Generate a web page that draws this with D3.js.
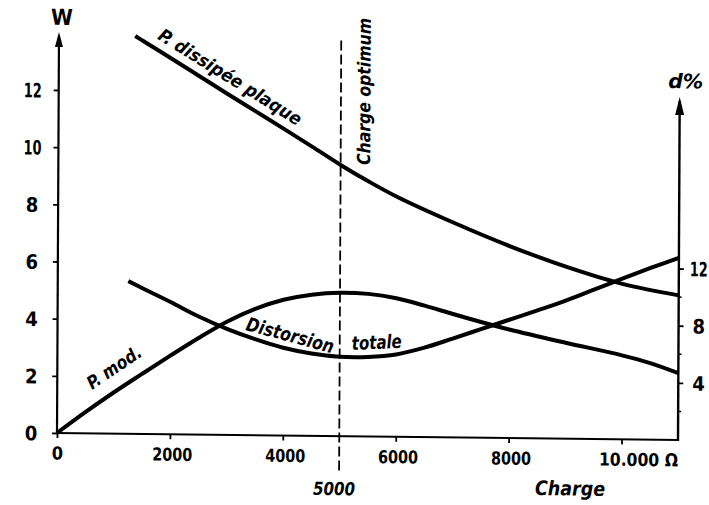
<!DOCTYPE html>
<html><head><meta charset="utf-8">
<script src="https://cdn.jsdelivr.net/npm/d3@7/dist/d3.min.js"></script>
<style>
html,body{margin:0;padding:0;background:#fff;}
svg{display:block;}
text{font-family:"DejaVu Sans Condensed","DejaVu Sans",sans-serif;font-weight:bold;fill:#000;}
</style></head><body>
<svg id="chart" width="709" height="505"></svg>
<script>
// ---- data (load in ohms) ----
const dissLoad = [1350,1500,2000,2500,3000,3500,4000,4500,5000,5500,6000,7000,8000,9000,10000,11000];
const dissW    = [13.92,13.74,13.14,12.53,11.92,11.32,10.72,10.11,9.49,8.92,8.40,7.52,6.72,6.02,5.44,5.06];

const modLoad = [0,500,1000,1500,2000,2500,3000,3500,4000,4500,5000,5500,6000,6500,7000,7500,8000,9000,10000,10500,11000];
const modW    = [0,0.74,1.44,2.10,2.75,3.38,3.96,4.42,4.75,4.94,5.02,4.99,4.85,4.60,4.32,4.05,3.80,3.36,2.94,2.68,2.34];

const distLoad = [1250,1500,2000,2500,3000,3500,4000,4500,5000,5500,6000,6500,7000,7500,8000,8500,9000,9500,10000,10500,11000];
const distPct  = [10.68,10.20,9.25,8.26,7.42,6.72,6.14,5.76,5.56,5.57,5.76,6.26,6.92,7.60,8.28,8.96,9.66,10.45,11.25,12.02,12.75];

const xTicks = [0,2000,4000,6000,8000,10000];
const xTickLabels = ["0","2000","4000","6000","8000","10.000 \u03A9"];
const wTicks = [0,2,4,6,8,10,12];
const dTicks = [4,8,12];
const dMinorTicks = [2,6,10];
const optimumLoad = 5000;

// ---- scales (local frame: origin at axes corner) ----
const x  = d3.scaleLinear().domain([0,11000]).range([0,621]);
const yW = d3.scaleLinear().domain([0,12]).range([0,-343]);
const yD = d3.scaleLinear().domain([0,24]).range([0,-343]);

const svg = d3.select("#chart");
// slight skew of the scanned original
const g = svg.append("g").attr("transform","matrix(1,0.0113,-0.005,1,57,433)");

// ---- axes ----
g.append("line").attr("x1",0).attr("x2",0).attr("y1",1).attr("y2",yW(14.03)+4)
  .attr("stroke","#000").attr("stroke-width",2.2);
g.append("path").attr("d",`M0,${yW(14.03)} L-4,${yW(14.03)+15} L4,${yW(14.03)+15} Z`).attr("fill","#000");
g.append("line").attr("x1",x(11000)).attr("x2",x(11000)).attr("y1",1).attr("y2",yD(24)+4)
  .attr("stroke","#000").attr("stroke-width",2.4);
g.append("path").attr("d",`M${x(11000)},${yD(24)} L${x(11000)-4.5},${yD(24)+18} L${x(11000)+4.5},${yD(24)+18} Z`).attr("fill","#000");
g.append("line").attr("x1",-1).attr("x2",x(11000)+1).attr("y1",0).attr("y2",0)
  .attr("stroke","#000").attr("stroke-width",2);

const gL = g.append("g").call(d3.axisLeft(yW).tickValues(wTicks).tickSize(5).tickSizeOuter(0).tickFormat(d3.format("d")));
gL.select(".domain").remove();
gL.selectAll(".tick line").attr("stroke","#000").attr("stroke-width",1.8);
gL.selectAll(".tick text").attr("x",-26).attr("dy","0.36em").attr("text-anchor","middle")
  .style("font-size","20px")
  .attr("textLength",d=>d>=10?18:null).attr("lengthAdjust","spacingAndGlyphs");

const gB = g.append("g").call(d3.axisBottom(x).tickValues(xTicks).tickSize(5).tickSizeOuter(0)
  .tickFormat((d,i)=>xTickLabels[i]));
gB.select(".domain").remove();
gB.selectAll(".tick line").attr("stroke","#000").attr("stroke-width",1.8);
gB.selectAll(".tick text").attr("y",26.5).attr("dy",0)
  .style("font-size","18px")
  .attr("text-anchor",d=>d===10000?"start":"middle")
  .attr("x",d=>d===10000?-23:(d===0?0:2))
  .attr("textLength",d=>d===0?null:(d===10000?79:40)).attr("lengthAdjust","spacingAndGlyphs");

const gR = g.append("g").attr("transform",`translate(${x(11000)},0)`)
  .call(d3.axisRight(yD).tickValues(dTicks).tickSize(5).tickSizeOuter(0).tickFormat(d3.format("d")));
gR.select(".domain").remove();
gR.selectAll(".tick line").attr("stroke","#000").attr("stroke-width",1.8);
gR.selectAll(".tick text").attr("dy","0.36em").attr("text-anchor","start")
  .style("font-size","20px")
  .attr("x",d=>d>=10?11/0.72:14)
  .attr("transform",d=>d>=10?"scale(0.72,1)":null);
g.append("g").selectAll("line").data(dMinorTicks).join("line")
  .attr("x1",x(11000)).attr("x2",x(11000)+3).attr("y1",d=>yD(d)).attr("y2",d=>yD(d))
  .attr("stroke","#000").attr("stroke-width",1.5);

// ---- optimum dashed line ----
g.append("line").attr("x1",x(optimumLoad)).attr("x2",x(optimumLoad))
  .attr("y1",yW(-1.2)).attr("y2",yW(13.85))
  .attr("stroke","#000").attr("stroke-width",1.8).attr("stroke-dasharray","10,4");

// ---- curves ----
const lineW = d3.line().x(d=>x(d[0])).y(d=>yW(d[1])).curve(d3.curveCatmullRom.alpha(0.5));
const lineD = d3.line().x(d=>x(d[0])).y(d=>yD(d[1])).curve(d3.curveCatmullRom.alpha(0.5));
const curveStyle = sel => sel.attr("fill","none").attr("stroke","#000").attr("stroke-width",4).attr("stroke-linecap","butt");
g.append("path").datum(d3.zip(dissLoad,dissW)).attr("d",lineW).call(curveStyle);
g.append("path").datum(d3.zip(modLoad,modW)).attr("d",lineW).call(curveStyle);
g.append("path").datum(d3.zip(distLoad,distPct)).attr("d",lineD).call(curveStyle);

// ---- annotations ----
const notes = [
  {text:"P. dissipée plaque", load:1730, w:13.84, angle:31.4, len:165, size:18, italic:true},
  {text:"Charge optimum",     load:5522, w:9.50,  angle:-90,  len:147, size:18, italic:true},
  {text:"P. mod.",            load:616,  w:1.52,  angle:-34.5,len:62,  size:18, italic:true},
  {text:"Distorsion",         load:3322, w:3.68,  angle:14.4, len:90,  size:19, italic:true},
  {text:"totale",             load:5219, w:3.02,  angle:-3,   len:50,  size:19, italic:true},
  {text:"5000",               load:4912, w:-2.06, angle:0,    len:42,  size:18, italic:true, anchor:"middle"},
  {text:"Charge",             load:8473, w:-1.98, angle:0,    len:70,  size:20, italic:true},
  {text:"W",                  load:53,   w:14.28, angle:0,    len:null,size:22, italic:false, anchor:"middle"},
  {text:"d%",                 load:10794,w:12.31, angle:0,    len:35,  size:20, italic:true}
];
g.append("g").selectAll("text").data(notes).join("text")
  .attr("transform",d=>`translate(${x(d.load)},${yW(d.w)}) rotate(${d.angle})`)
  .attr("text-anchor",d=>d.anchor||"start")
  .style("font-size",d=>d.size+"px")
  .style("font-style",d=>d.italic?"italic":"normal")
  .attr("textLength",d=>d.len).attr("lengthAdjust","spacingAndGlyphs")
  .text(d=>d.text);
</script>
</body></html>
